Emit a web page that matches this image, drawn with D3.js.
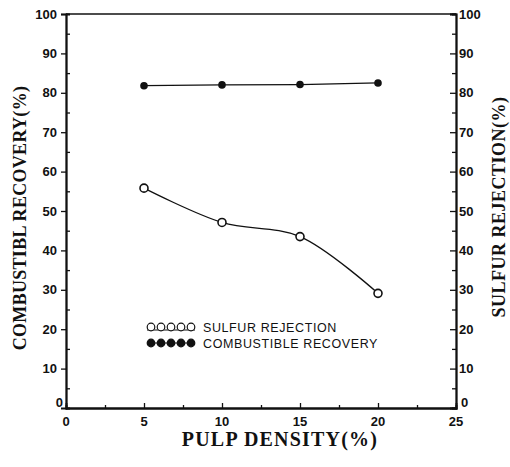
<!DOCTYPE html>
<html>
<head>
<meta charset="utf-8">
<script src="https://cdn.jsdelivr.net/npm/d3@7"></script>
<style>
  body { margin: 0; background: #fff; }
  svg { display: block; }
</style>
</head>
<body>
<svg width="510" height="467"></svg>
<script>
// pulp density (%)
var density = [5, 10, 15, 20];
var combustibleRecovery = [81.8, 82.0, 82.1, 82.5];
var sulfurRejection = [55.8, 47.1, 43.5, 29.1];

var xTicks = [0, 5, 10, 15, 20, 25];
var yTicks = [0, 10, 20, 30, 40, 50, 60, 70, 80, 90, 100];

var svg = d3.select("svg");
var m = {left: 66, right: 456, top: 14, bottom: 408};

var x = d3.scaleLinear().domain([0, 25]).range([m.left, m.right]);
var y = d3.scaleLinear().domain([0, 100]).range([m.bottom, m.top]);

var ink = "#111";

// frame (top line)
svg.append("line")
    .attr("x1", m.left).attr("x2", m.right)
    .attr("y1", m.top).attr("y2", m.top)
    .attr("stroke", ink).attr("stroke-width", 1.6);

// left axis: major ticks outward, minor inward
var left = svg.append("g").attr("transform", "translate(" + m.left + ",0)")
    .call(d3.axisLeft(y).tickValues(yTicks.slice(1)).tickSize(5).tickPadding(4).tickFormat(d3.format("d")));
svg.append("g").attr("transform", "translate(" + m.left + ",0)")
    .call(d3.axisRight(y).tickValues(d3.range(5, 100, 10)).tickSize(4).tickFormat(""));

// right axis: ticks inward
svg.append("g").attr("transform", "translate(" + m.right + ",0)")
    .call(d3.axisLeft(y).tickValues(yTicks.slice(1)).tickSize(6).tickFormat(""));
svg.append("g").attr("transform", "translate(" + m.right + ",0)")
    .call(d3.axisLeft(y).tickValues(d3.range(5, 100, 10)).tickSize(4).tickFormat(""));

// x axis: ticks inward
svg.append("g").attr("transform", "translate(0," + m.bottom + ")")
    .call(d3.axisTop(x).tickValues(xTicks.slice(1, -1)).tickSize(5).tickFormat(""));
svg.append("g").attr("transform", "translate(0," + m.bottom + ")")
    .call(d3.axisTop(x).tickValues([2.5, 7.5, 12.5, 17.5, 22.5]).tickSize(3).tickFormat(""));

svg.selectAll(".domain").attr("stroke", ink).attr("stroke-width", 1.8);
svg.selectAll(".tick line").attr("stroke", ink).attr("stroke-width", 1.3);

var tickFont = "'Liberation Sans', Arial, sans-serif";

left.selectAll(".tick text")
    .attr("fill", ink).style("font", "bold 13px " + tickFont);

// right labels
svg.append("g").selectAll("text")
    .data(yTicks.slice(1))
    .enter().append("text")
    .attr("x", m.right + 3)
    .attr("y", function(d) { return y(d); })
    .attr("dy", "0.35em")
    .attr("fill", ink)
    .style("font", "bold 13px " + tickFont)
    .text(function(d) { return d; });

// zeros sit off the corner
svg.append("text").attr("x", m.left - 3).attr("y", m.bottom - 1)
    .attr("text-anchor", "end").attr("fill", ink)
    .style("font", "bold 13px " + tickFont).text("0");
svg.append("text").attr("x", m.right + 5).attr("y", m.bottom - 1)
    .attr("fill", ink).style("font", "bold 13px " + tickFont).text("0");

// x tick labels
svg.append("g").selectAll("text")
    .data(xTicks)
    .enter().append("text")
    .attr("x", function(d) { return x(d); })
    .attr("y", m.bottom + 18)
    .attr("text-anchor", "middle")
    .attr("fill", ink)
    .style("font", "bold 13px " + tickFont)
    .text(function(d) { return d; });

// axis titles
var serif = "'Liberation Serif', 'DejaVu Serif', serif";
svg.append("text")
    .attr("transform", "translate(26,218) rotate(-90)")
    .attr("text-anchor", "middle").attr("fill", ink)
    .style("font", "bold 18px " + serif).style("letter-spacing", "0.3px")
    .text("COMBUSTIBL RECOVERY(%)");
svg.append("text")
    .attr("transform", "translate(505,207) rotate(-90)")
    .attr("text-anchor", "middle").attr("fill", ink)
    .style("font", "bold 18px " + serif).style("letter-spacing", "0.5px")
    .text("SULFUR REJECTION(%)");
svg.append("text")
    .attr("x", 280).attr("y", 446)
    .attr("text-anchor", "middle").attr("fill", ink)
    .style("font", "bold 20px " + serif).style("letter-spacing", "1.2px")
    .text("PULP DENSITY(%)");

// combustible recovery: straight segments, filled dots
var recLine = d3.line()
    .x(function(d, i) { return x(density[i]); })
    .y(function(d) { return y(d); });
svg.append("path")
    .datum(combustibleRecovery)
    .attr("d", recLine)
    .attr("fill", "none").attr("stroke", ink).attr("stroke-width", 1.2);
svg.append("g").selectAll("circle")
    .data(combustibleRecovery)
    .enter().append("circle")
    .attr("cx", function(d, i) { return x(density[i]); })
    .attr("cy", function(d) { return y(d); })
    .attr("r", 3.8)
    .attr("fill", ink);

// sulfur rejection: smooth curve, open dots
var rejLine = d3.line()
    .x(function(d, i) { return x(density[i]); })
    .y(function(d) { return y(d); })
    .curve(d3.curveCatmullRom.alpha(0.5));
svg.append("path")
    .datum(sulfurRejection)
    .attr("d", rejLine)
    .attr("fill", "none").attr("stroke", ink).attr("stroke-width", 1.3);
svg.append("g").selectAll("circle")
    .data(sulfurRejection)
    .enter().append("circle")
    .attr("cx", function(d, i) { return x(density[i]); })
    .attr("cy", function(d) { return y(d); })
    .attr("r", 4)
    .attr("fill", "#fff")
    .attr("stroke", ink).attr("stroke-width", 1.6);

// legend
var legendItems = [
  {name: "SULFUR REJECTION", filled: false, yy: 327},
  {name: "COMBUSTIBLE RECOVERY", filled: true, yy: 343}
];
var lg = svg.append("g");
legendItems.forEach(function(it) {
  var g = lg.append("g");
  g.append("line")
      .attr("x1", 147).attr("x2", 195)
      .attr("y1", it.yy + (it.filled ? 0 : 3)).attr("y2", it.yy + (it.filled ? 0 : 3))
      .attr("stroke", ink).attr("stroke-width", 1.2);
  g.selectAll("circle")
      .data(d3.range(5))
      .enter().append("circle")
      .attr("cx", function(d) { return 151 + d * 10; })
      .attr("cy", it.yy)
      .attr("r", 3.8)
      .attr("fill", it.filled ? ink : "#fff")
      .attr("stroke", ink).attr("stroke-width", 1.2);
  g.append("text")
      .attr("x", 203).attr("y", it.yy + 4.5)
      .attr("fill", ink)
      .style("font", "12.5px 'Liberation Sans', Arial, sans-serif")
      .style("letter-spacing", "0.6px")
      .text(it.name);
});
</script>
</body>
</html>
